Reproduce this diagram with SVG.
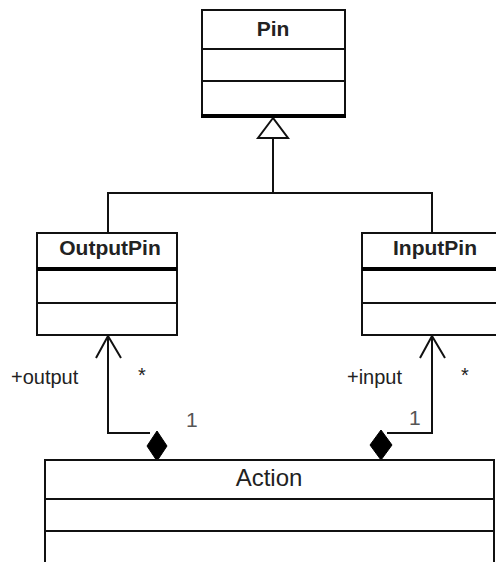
<svg xmlns="http://www.w3.org/2000/svg" width="496" height="562" viewBox="0 0 496 562">
  <style>
    .box { fill: #ffffff; stroke: #111111; stroke-width: 2; }
    .sep { stroke: #111111; stroke-width: 2; }
    .thick { stroke: #000000; stroke-width: 4; }
    .name { font-family: "Liberation Sans", Arial, sans-serif; font-size: 21px; font-weight: bold; fill: #222222; text-anchor: middle; }
    .title { font-family: "Liberation Sans", Arial, sans-serif; font-size: 24px; fill: #222222; text-anchor: middle; }
    .lbl { font-family: "Liberation Sans", Arial, sans-serif; font-size: 20px; fill: #222222; }
    .mult { font-family: "Liberation Sans", Arial, sans-serif; font-size: 21px; fill: #555555; }
    .edge { fill: none; stroke: #111111; stroke-width: 2; }
    .diamond { fill: #000000; stroke: #000000; stroke-width: 1; }
  </style>

  <rect width="496" height="562" fill="#ffffff"/>

  <!-- connectors -->
  <g id="connectors">
    <!-- generalization: OutputPin / InputPin to Pin -->
    <path class="edge" d="M108,233 V193 H432 V233"/>
    <path class="edge" d="M273,193 V138"/>
    <polygon points="273,118 258,138 288,138" fill="#ffffff" stroke="#111111" stroke-width="2"/>

    <!-- composition: Action to OutputPin -->
    <path class="edge" d="M150,433 H108 V336"/>
    <path class="edge" d="M96,358 L108,336 L121,358"/>
    <polygon class="diamond" points="157,431 167,446 157,461 147,446"/>

    <!-- composition: Action to InputPin -->
    <path class="edge" d="M387,433 H432 V336"/>
    <path class="edge" d="M420,358 L432,336 L445,358"/>
    <polygon class="diamond" points="381,430 392,445 381,460 370,445"/>

    <text class="lbl" x="11" y="384">+output</text>
    <text class="lbl" x="138" y="382">*</text>
    <text class="mult" x="186" y="427">1</text>
    <text class="lbl" x="347" y="384">+input</text>
    <text class="lbl" x="461" y="382">*</text>
    <text class="mult" x="409" y="425">1</text>
  </g>

  <!-- Pin -->
  <g id="pin">
    <rect class="box" x="202" y="10" width="143" height="106"/>
    <line class="sep" x1="202" y1="49" x2="345" y2="49"/>
    <line class="sep" x1="202" y1="81" x2="345" y2="81"/>
    <line class="thick" x1="201" y1="116" x2="346" y2="116"/>
    <text class="name" x="273" y="36">Pin</text>
  </g>

  <!-- OutputPin -->
  <g id="outputpin">
    <rect class="box" x="37" y="233" width="140" height="102"/>
    <line class="thick" x1="37" y1="269" x2="177" y2="269"/>
    <line class="sep" x1="37" y1="303" x2="177" y2="303"/>
    <text class="name" x="110" y="255">OutputPin</text>
  </g>

  <!-- InputPin -->
  <g id="inputpin">
    <rect class="box" x="362" y="233" width="150" height="102"/>
    <line class="thick" x1="362" y1="269" x2="512" y2="269"/>
    <line class="sep" x1="362" y1="303" x2="512" y2="303"/>
    <text class="name" x="435" y="255">InputPin</text>
  </g>

  <!-- Action -->
  <g id="action">
    <rect class="box" x="45" y="460" width="449" height="110"/>
    <line class="sep" x1="45" y1="499" x2="494" y2="499"/>
    <line class="sep" x1="45" y1="531" x2="494" y2="531"/>
    <text class="title" x="269" y="486">Action</text>
  </g>
</svg>
